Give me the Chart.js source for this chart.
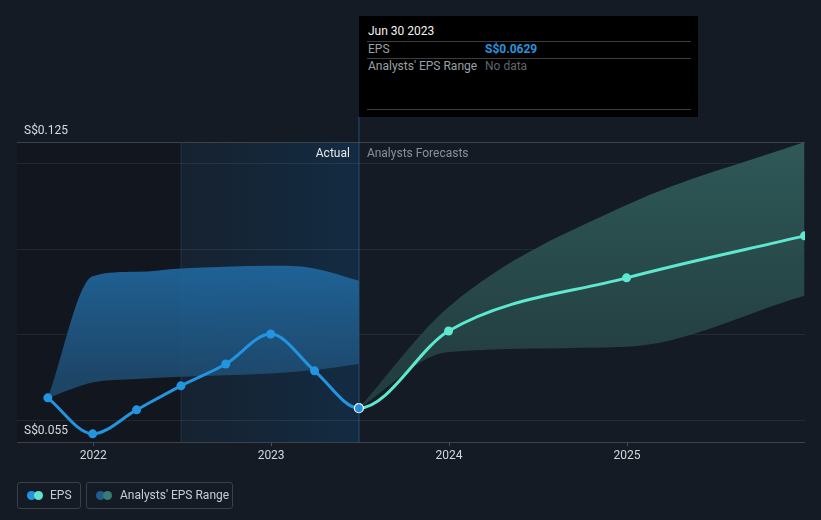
<!DOCTYPE html>
<html>
<head>
<meta charset="utf-8">
<script src="https://cdn.jsdelivr.net/npm/chart.js@4.4.1/dist/chart.umd.min.js"></script>
<style>
  html, body { margin: 0; padding: 0; background: #151b25; }
  body { width: 821px; height: 520px; position: relative; overflow: hidden; font-family: Roboto, "Open Sans", sans-serif; }
  #wrap { position: absolute; left: 0; top: 0; width: 821px; height: 520px; }
  #tip { position: absolute; left: 359px; top: 16px; width: 339px; height: 101px; background: #000; box-sizing: border-box; }
  #tip .title { position: absolute; left: 9px; top: 8px; color: #f2f2f2; font-size: 12px; }
  #tip .sep { position: absolute; left: 8px; width: 324px; height: 1px; background: #3a3d42; }
  #tip .lab { position: absolute; left: 9px; color: #9aa0a6; font-size: 12px; }
  #tip .val { position: absolute; left: 126px; font-size: 12px; }
  .legend { position: absolute; top: 482px; height: 27px; border: 1px solid #3a404a; border-radius: 3px; box-sizing: border-box; color: #c9cdd3; font-size: 12px; }
  .legend .dot { position: absolute; top: 8px; width: 9px; height: 9px; border-radius: 50%; }
  .legend .txt { position: absolute; top: 5px; }
</style>
</head>
<body>
<div id="wrap"><canvas id="c" width="821" height="520"></canvas></div>
<div id="tip">
  <div class="title">Jun 30 2023</div>
  <div class="sep" style="top:25px"></div>
  <div class="lab" style="top:26px">EPS</div>
  <div class="val" style="top:26px;color:#2394df;font-weight:bold">S$0.0629</div>
  <div class="sep" style="top:42px"></div>
  <div class="lab" style="top:43px">Analysts' EPS Range</div>
  <div class="val" style="top:43px;color:#5f656c">No data</div>
  <div class="sep" style="top:93px"></div>
</div>
<div class="legend" style="left:17px;width:64px">
  <div class="dot" style="left:9px;background:#2394df"></div>
  <div class="dot" style="left:16px;background:#62e3cd"></div>
  <div class="txt" style="left:32px">EPS</div>
</div>
<div class="legend" style="left:86px;width:147px">
  <div class="dot" style="left:9px;background:#1f5d8c"></div>
  <div class="dot" style="left:16px;background:#3a7a73"></div>
  <div class="txt" style="left:33px">Analysts' EPS Range</div>
</div>
<script>
// ---- data ----
const actualDates = ['2021-09-30','2021-12-31','2022-03-31','2022-06-30','2022-09-30','2022-12-31','2023-03-31','2023-06-30'];
const epsActual   = [0.0653, 0.0569, 0.0625, 0.0681, 0.0732, 0.0802, 0.0716, 0.0629];
const rangeActualHigh = [0.0653, 0.0937, 0.0947, 0.0955, 0.0959, 0.0961, 0.0955, 0.0926];
const rangeActualLow  = [0.0653, 0.0689, 0.0697, 0.0702, 0.0706, 0.0710, 0.0718, 0.0732];
const forecastDates = ['2023-06-30','2023-12-31','2024-12-31','2025-12-31'];
const epsForecast   = [0.0629, 0.0809, 0.0933, 0.1031];
const rangeForecastHigh = [0.0629, 0.0865, 0.1103, 0.1250];
const rangeForecastLow  = [0.0629, 0.0760, 0.0772, 0.0891];
const yearTicks = [2022, 2023, 2024, 2025];
const yGridValues = [0.055, 0.06, 0.08, 0.10, 0.12, 0.125];
const yMin = 0.055, yMax = 0.125;
const xMin = 2021.572, xMax = 2026.0;
const highlightStart = '2022-06-30';
const currentDate = '2023-06-30';

function decYear(s) {
  const [y, m, d] = s.split('-').map(Number);
  const start = Date.UTC(y, 0, 1), end = Date.UTC(y + 1, 0, 1);
  return y + (Date.UTC(y, m - 1, d) - start) / (end - start);
}
const pts = (dates, vals) => dates.map((d, i) => ({ x: decYear(d), y: vals[i] }));

// one continuous EPS series (actual + forecast, shared join point)
const lastIdx = epsActual.length - 1;
const epsSeries = pts(actualDates, epsActual).concat(pts(forecastDates.slice(1), epsForecast.slice(1)));
const BLUE = '#2394df', TEAL = '#5ee8cf';

function vGrad(stops) {
  return (ctx) => {
    const ch = ctx.chart, a = ch.chartArea;
    if (!a) return stops[0][1];
    const g = ch.ctx.createLinearGradient(0, a.top, 0, a.bottom);
    stops.forEach(s => g.addColorStop(s[0], s[1]));
    return g;
  };
}

const regions = {
  id: 'regions',
  beforeDraw(chart) {
    const { ctx, chartArea: a, scales: { x } } = chart;
    const xh = x.getPixelForValue(decYear(highlightStart));
    const xc = x.getPixelForValue(decYear(currentDate));
    ctx.save();
    ctx.fillStyle = '#12161e';
    ctx.fillRect(a.left, a.top, xh - a.left, a.bottom - a.top);
    const g = ctx.createLinearGradient(xh, 0, xc, 0);
    g.addColorStop(0, 'rgba(22,34,48,1)');
    g.addColorStop(1, 'rgba(19,43,66,1)');
    ctx.fillStyle = g;
    ctx.fillRect(xh, a.top, xc - xh, a.bottom - a.top);
    ctx.fillStyle = 'rgba(60,100,140,0.35)';
    ctx.fillRect(Math.round(xh) - 0.5, a.top, 1, a.bottom - a.top);
    ctx.restore();
  },
  afterDraw(chart) {
    const { ctx, chartArea: a, scales: { x } } = chart;
    const xc = x.getPixelForValue(decYear(currentDate));
    ctx.save();
    ctx.fillStyle = 'rgba(50,110,160,0.6)';
    ctx.fillRect(Math.round(xc) - 0.5, 117, 1, a.bottom - 117);
    ctx.font = '12px Roboto, "Open Sans", sans-serif';
    ctx.textBaseline = 'middle';
    ctx.textAlign = 'right';
    ctx.fillStyle = '#e6e8eb';
    ctx.fillText('Actual', xc - 9, a.top + 12);
    ctx.textAlign = 'left';
    ctx.fillStyle = '#8b9097';
    ctx.fillText('Analysts Forecasts', xc + 8, a.top + 12);
    ctx.restore();
  },
  afterDatasetsDraw(chart) {
    // redraw the current (join) point on top with its white ring
    const meta = chart.getDatasetMeta(0);
    const p = meta.data[lastIdx];
    if (!p) return;
    const { ctx } = chart;
    ctx.save();
    ctx.beginPath();
    ctx.arc(p.x, p.y, 4.5, 0, Math.PI * 2);
    ctx.fillStyle = BLUE;
    ctx.fill();
    ctx.lineWidth = 1.2;
    ctx.strokeStyle = '#ffffff';
    ctx.stroke();
    ctx.restore();
  }
};

new Chart(document.getElementById('c'), {
  type: 'line',
  data: {
    datasets: [
      {
        label: 'EPS',
        data: epsSeries,
        borderColor: BLUE, backgroundColor: BLUE, borderWidth: 3,
        segment: { borderColor: (c) => c.p1DataIndex > lastIdx ? TEAL : BLUE },
        pointRadius: epsSeries.map((v, i) => i === lastIdx ? 0 : 4.5),
        pointBorderWidth: 0,
        pointBackgroundColor: epsSeries.map((v, i) => i > lastIdx ? TEAL : BLUE),
        cubicInterpolationMode: 'monotone', fill: false
      },
      {
        label: 'range high',
        data: pts(actualDates, rangeActualHigh),
        borderWidth: 0, pointRadius: 0, cubicInterpolationMode: 'monotone',
        fill: '+1',
        backgroundColor: vGrad([[0.35, 'rgba(32,108,166,0.92)'], [0.8, 'rgba(30,74,110,0.9)']])
      },
      {
        label: 'range low',
        data: pts(actualDates, rangeActualLow),
        borderWidth: 0, pointRadius: 0, cubicInterpolationMode: 'monotone', fill: false
      },
      {
        label: 'forecast high',
        data: pts(forecastDates, rangeForecastHigh),
        borderWidth: 0, pointRadius: 0, cubicInterpolationMode: 'monotone',
        fill: '+1',
        backgroundColor: vGrad([[0, 'rgba(48,92,90,0.95)'], [0.75, 'rgba(36,64,66,0.95)']])
      },
      {
        label: 'forecast low',
        data: pts(forecastDates, rangeForecastLow),
        borderWidth: 0, pointRadius: 0, cubicInterpolationMode: 'monotone', fill: false
      }
    ]
  },
  options: {
    responsive: false, animation: false,
    layout: { padding: { left: 17, right: 16, top: 142, bottom: 48 } },
    plugins: { legend: { display: false }, tooltip: { enabled: false } },
    scales: {
      x: {
        type: 'linear', min: xMin, max: xMax,
        afterBuildTicks: (s) => { s.ticks = yearTicks.map(v => ({ value: v })); },
        afterFit: (s) => { s.height = 30; },
        ticks: { callback: (v) => String(v), color: '#d3d7dc', font: { size: 12, family: 'Roboto' }, padding: 3, autoSkip: false, maxRotation: 0 },
        grid: { drawOnChartArea: false, drawTicks: true, tickLength: 4, color: '#4a505a' },
        border: { display: false }
      },
      y: {
        type: 'linear', min: yMin, max: yMax,
        afterBuildTicks: (s) => { s.ticks = yGridValues.map(v => ({ value: v })); },
        afterFit: (s) => { s.width = 0; },
        ticks: {
          mirror: true, padding: 7, labelOffset: -11, autoSkip: false,
          color: '#d8dce0', font: { size: 12, family: 'Roboto' },
          callback: (v) => (v === yMin || v === yMax) ? 'S$' + v : ''
        },
        grid: {
          drawTicks: false,
          color: (c) => (c.tick && (c.tick.value === yMin || c.tick.value === yMax)) ? '#3d434d' : 'rgba(255,255,255,0.07)'
        },
        border: { display: false }
      }
    }
  },
  plugins: [regions]
});
</script>
</body>
</html>
